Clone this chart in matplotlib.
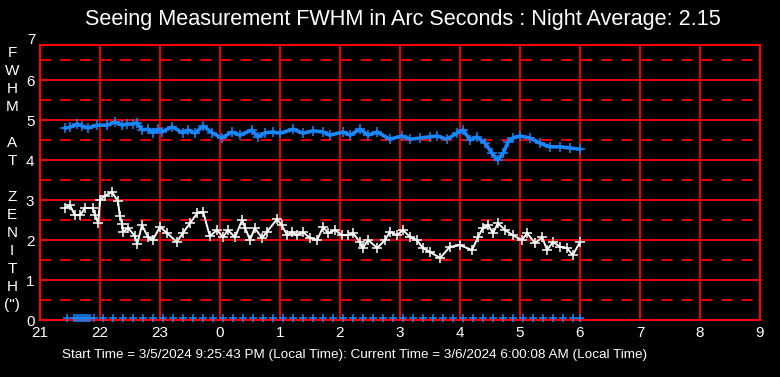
import matplotlib
matplotlib.use("Agg")
import matplotlib.pyplot as plt

plt.rcParams['font.family'] = ['Liberation Sans', 'DejaVu Sans']

# times in hours on a running clock (24 = midnight, 30 = 6 AM)
white_t = [21.42, 21.5, 21.58, 21.67, 21.75, 21.88, 21.92, 21.97, 22.0, 22.08, 22.2, 22.3,
           22.33, 22.37, 22.38, 22.47, 22.58, 22.62, 22.7, 22.8, 22.88, 23.0, 23.12, 23.28,
           23.38, 23.5, 23.62, 23.72, 23.83, 23.95, 24.05, 24.13, 24.25, 24.37, 24.42, 24.5,
           24.58, 24.7, 24.78, 24.95, 25.03, 25.12, 25.2, 25.28, 25.38, 25.5, 25.62, 25.72,
           25.8, 25.92, 26.03, 26.13, 26.22, 26.33, 26.38, 26.47, 26.62, 26.75, 26.83, 26.95,
           27.05, 27.17, 27.28, 27.38, 27.5, 27.67, 27.83, 28.0, 28.2, 28.3, 28.38, 28.47,
           28.55, 28.63, 28.75, 28.88, 29.03, 29.12, 29.25, 29.37, 29.45, 29.55, 29.67, 29.78,
           29.88, 30.0]
white_v = [2.8, 2.87, 2.62, 2.62, 2.8, 2.8, 2.62, 2.42, 3.0, 3.1, 3.2, 2.97,
           2.6, 2.4, 2.2, 2.3, 2.1, 1.9, 2.37, 2.07, 2.0, 2.33, 2.17, 1.95,
           2.17, 2.42, 2.67, 2.7, 2.1, 2.25, 2.07, 2.25, 2.07, 2.5, 2.3, 2.0,
           2.3, 2.05, 2.2, 2.52, 2.37, 2.12, 2.2, 2.12, 2.2, 2.05, 2.0, 2.33,
           2.17, 2.25, 2.12, 2.12, 2.17, 1.95, 1.8, 2.0, 1.8, 2.0, 2.2, 2.12,
           2.25, 2.07, 2.0, 1.8, 1.7, 1.55, 1.83, 1.87, 1.75, 2.07, 2.3, 2.37,
           2.17, 2.42, 2.25, 2.12, 2.0, 2.17, 1.92, 2.07, 1.75, 1.95, 1.83, 1.8,
           1.62, 1.95]

blue_t = [21.42, 21.5, 21.62, 21.7, 21.8, 21.95, 22.12, 22.25, 22.37, 22.45, 22.55, 22.62,
          22.7, 22.8, 22.88, 22.97, 23.03, 23.2, 23.38, 23.47, 23.58, 23.72, 23.87, 24.03,
          24.2, 24.33, 24.53, 24.63, 24.75, 24.88, 25.0, 25.22, 25.38, 25.55, 25.72, 25.83,
          26.05, 26.17, 26.33, 26.47, 26.62, 26.83, 27.03, 27.17, 27.33, 27.5, 27.62, 27.78,
          27.95, 28.05, 28.17, 28.28, 28.42, 28.53, 28.63, 28.72, 28.8, 28.88, 29.0, 29.17,
          29.33, 29.5, 29.67, 29.83, 30.0]
blue_v = [4.8, 4.82, 4.9, 4.85, 4.8, 4.87, 4.87, 4.95, 4.87, 4.9, 4.9, 4.93,
          4.75, 4.77, 4.68, 4.77, 4.7, 4.83, 4.68, 4.75, 4.67, 4.85, 4.68, 4.55,
          4.7, 4.62, 4.75, 4.58, 4.68, 4.7, 4.67, 4.77, 4.67, 4.73, 4.7, 4.62,
          4.7, 4.62, 4.77, 4.62, 4.7, 4.52, 4.6, 4.52, 4.55, 4.58, 4.6, 4.52,
          4.67, 4.75, 4.5, 4.58, 4.42, 4.17, 4.0, 4.17, 4.45, 4.55, 4.6, 4.55,
          4.42, 4.33, 4.33, 4.3, 4.27]

# sample marks along the bottom
bottom_t = [21.45, 21.57, 21.6, 21.63, 21.67, 21.7, 21.73, 21.77, 21.8, 21.83, 21.9,
            22.05, 22.22, 22.38, 22.55, 22.72, 22.88,
            23.05, 23.22, 23.38, 23.55, 23.72, 23.88,
            24.05, 24.22, 24.38, 24.55, 24.72, 24.88,
            25.05, 25.22, 25.38, 25.55, 25.72, 25.88,
            26.05, 26.22, 26.38, 26.55, 26.72, 26.88,
            27.05, 27.22, 27.38, 27.55, 27.72, 27.88,
            28.05, 28.22, 28.38, 28.55, 28.72, 28.88,
            29.05, 29.22, 29.38, 29.55, 29.72, 29.88, 30.0]
bottom_v = [0.06] * len(bottom_t)

hour_ticks = [21, 22, 23, 24, 25, 26, 27, 28, 29, 30, 31, 32, 33]
hour_labels = ['21', '22', '23', '0', '1', '2', '3', '4', '5', '6', '7', '8', '9']
y_ticks = [0, 1, 2, 3, 4, 5, 6]

title = "Seeing Measurement FWHM in Arc Seconds : Night Average: 2.15"
footer = "Start Time = 3/5/2024 9:25:43 PM (Local Time): Current Time = 3/6/2024 6:00:08 AM (Local Time)"
ylabel_letters = ['F', 'W', 'H', 'M', '', 'A', 'T', '', 'Z', 'E', 'N', 'I', 'T', 'H', '(")']

RED = '#ff0000'
BLUE = '#1a86ff'
W, H = 780, 377

fig = plt.figure(figsize=(7.8, 3.77), dpi=100, facecolor='black')
ax = fig.add_axes([40 / W, (H - 320) / H, 720 / W, 275 / H], facecolor='black')

ax.set_xlim(21, 33)
ax.set_ylim(0, 6.875)

# grid
for h in hour_ticks:
    ax.axvline(h, color=RED, lw=1.3, zorder=1)
for y in y_ticks[1:]:
    ax.axhline(y, color=RED, lw=1.3, zorder=1)
for y in [0.5, 1.5, 2.5, 3.5, 4.5, 5.5, 6.5]:
    ln = ax.axhline(y, color=RED, lw=1.3, zorder=1)
    ln.set_dashes((6.1, 5.0))

for s in ax.spines.values():
    s.set_color(RED)
    s.set_linewidth(1.5)

ax.plot(white_t, white_v, color='white', lw=1.4, marker='+', ms=7, mew=1.1, zorder=3)
ax.plot(blue_t, blue_v, color=BLUE, lw=2.6, marker='+', ms=7, mew=1.1, zorder=3)
ax.plot(bottom_t, bottom_v, ls='none', color=BLUE, marker='+', ms=5.5, mew=1.1, zorder=3,
        clip_on=False)

ax.set_xticks(hour_ticks)
ax.set_xticklabels(hour_labels)
ax.set_yticks(y_ticks)
ax.tick_params(colors='white', labelsize=11, length=0, pad=4)
for lab in ax.get_xticklabels() + ax.get_yticklabels():
    lab.set_color('white')
# the 7 label sits above the frame
ax.text(20.92, 7.0, '7', color='white', fontsize=11, ha='right', va='center', clip_on=False)

fig.text(403 / W, 1 - 20 / H, title, color='white', fontsize=15.6, ha='center', va='center')
fig.text(355 / W, 1 - 355 / H, footer, color='white', fontsize=9.7, ha='center', va='center')

for i, ch in enumerate(ylabel_letters):
    if ch:
        fig.text(12 / W, 1 - (53 + 18 * i) / H, ch, color='white', fontsize=11,
                 ha='center', va='center')

fig.savefig('out.png', dpi=100, facecolor='black')
